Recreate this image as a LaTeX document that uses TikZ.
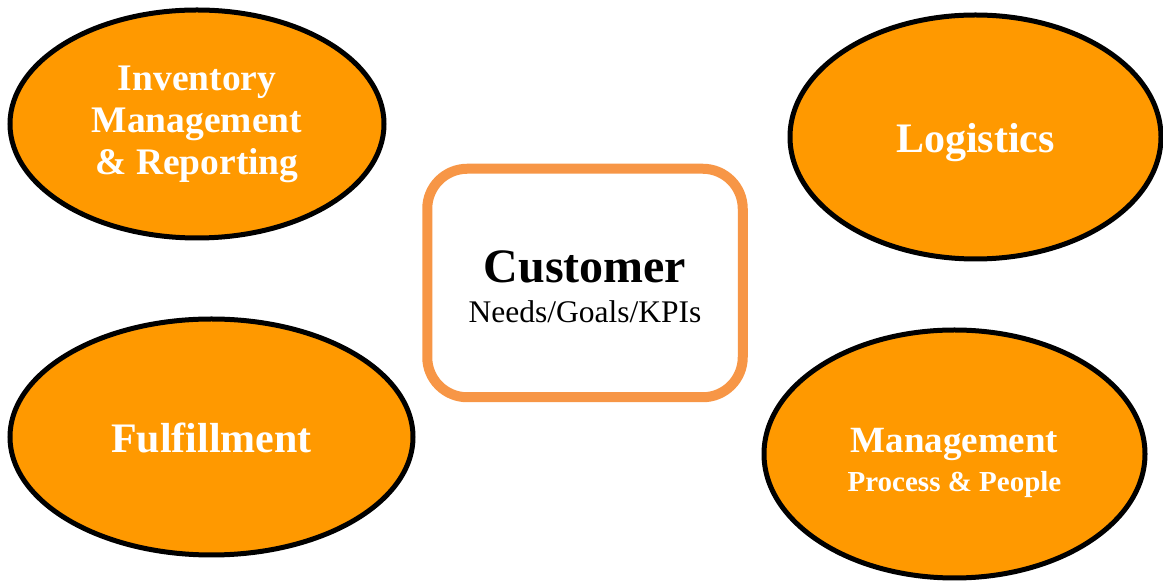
\documentclass[tikz,border=0pt]{standalone}
\usepackage{fontspec}
\setmainfont{Liberation Serif}
\usetikzlibrary{shapes.geometric}

\definecolor{bubbleorange}{RGB}{255,153,0}
\definecolor{hubborder}{RGB}{247,150,70}

\begin{document}
\begin{tikzpicture}[x=1pt,y=1pt,
    bubble/.style={ellipse,draw=black,line width=5pt,fill=bubbleorange,inner sep=0pt},
    bubbletext/.style={text=white,align=center,inner sep=0pt},
    hub/.style={rectangle,draw=hubborder,line width=10pt,fill=white,
        rounded corners=40pt,inner sep=0pt},
    hubtext/.style={align=center,inner sep=0pt}]
    \useasboundingbox (0,0) rectangle (1163,586);
    % the four bubbles
    \node [bubble,minimum width=374pt,minimum height=228pt] (inventory) at (197,462) {};
    \node [bubble,minimum width=371pt,minimum height=244pt] (logistics) at (975.5,449) {};
    \node [bubble,minimum width=403pt,minimum height=236pt] (fulfillment) at (211.5,149) {};
    \node [bubble,minimum width=381pt,minimum height=248pt] (management) at (954.5,132) {};
    % the customer box
    \node [hub,minimum width=315.5pt,minimum height=228.5pt] (customer) at (585,303) {};
    % texts
    \node [bubbletext,font=\fontsize{37.5}{42}\selectfont\bfseries] (inventory-text)
        at ([yshift=-0.5pt]inventory) {Inventory\\Management\\\& Reporting};
    \node [bubbletext,font=\fontsize{42}{48}\selectfont\bfseries] (logistics-text)
        at ([yshift=-6pt]logistics) {Logistics};
    \node [bubbletext,font=\fontsize{42}{48}\selectfont\bfseries] (fulfillment-text)
        at ([yshift=-1pt]fulfillment) {Fulfillment};
    \node [bubbletext,font=\fontsize{37}{37}\selectfont\bfseries] (management-text)
        at ([yshift=-9pt]management) {Management\\[2pt]{\fontsize{29}{37}\selectfont Process \& People}};
    \node [hubtext,font=\fontsize{31.5}{39}\selectfont] (customer-text)
        at ([yshift=-3.5pt]customer) {{\fontsize{48}{39}\selectfont\bfseries Customer}\\[1pt]Needs/Goals/KPIs};
\end{tikzpicture}
\end{document}
